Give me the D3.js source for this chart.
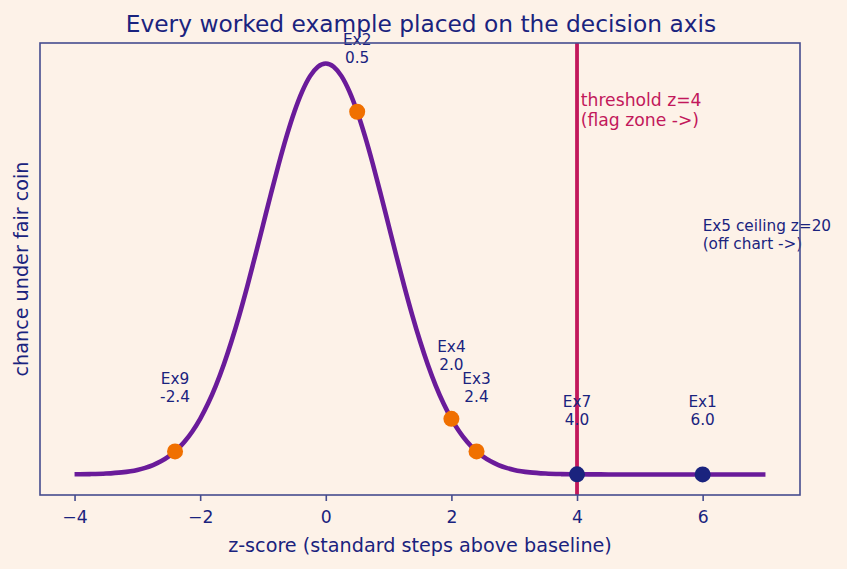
<!DOCTYPE html>
<html>
<head>
<meta charset="utf-8">
<script src="https://cdn.jsdelivr.net/npm/d3@7"></script>
<style>
  body { margin: 0; background: #fdf2e8; }
  text { font-family: "DejaVu Sans", sans-serif; }
</style>
</head>
<body>
<div id="chart"></div>
<script>
// curve (density under a fair coin)
const curveZ = [-4, -3.75, -3.5, -3.25, -3, -2.875, -2.75, -2.625, -2.5, -2.375, -2.25, -2.125, -2, -1.875, -1.75, -1.625,
                -1.5, -1.375, -1.25, -1.125, -1, -0.875, -0.75, -0.625, -0.5, -0.375, -0.25, -0.125,
                0, 0.125, 0.25, 0.375, 0.5, 0.625, 0.75, 0.875, 1, 1.125, 1.25, 1.375, 1.5, 1.625, 1.75, 1.875,
                2, 2.125, 2.25, 2.375, 2.5, 2.625, 2.75, 2.875, 3, 3.25, 3.5, 3.75, 4,
                4.25, 4.5, 5, 5.5, 6, 6.5, 7];
const curveP = [0.00013, 0.00035, 0.00087, 0.00203, 0.00443, 0.00640, 0.00909, 0.01273, 0.01753, 0.02378, 0.03174, 0.04172, 0.05399, 0.06879, 0.08628, 0.10654,
                0.12952, 0.15501, 0.18265, 0.21188, 0.24197, 0.27205, 0.30114, 0.32816, 0.35207, 0.37185, 0.38667, 0.39584,
                0.39894, 0.39584, 0.38667, 0.37185, 0.35207, 0.32816, 0.30114, 0.27205, 0.24197, 0.21188, 0.18265, 0.15501, 0.12952, 0.10654, 0.08628, 0.06879,
                0.05399, 0.04172, 0.03174, 0.02378, 0.01753, 0.01273, 0.00909, 0.00640, 0.00443, 0.00203, 0.00087, 0.00035, 0.00013,
                0.00005, 0.00002, 0, 0, 0, 0, 0];

// worked examples
const exNames = ["Ex9", "Ex2", "Ex4", "Ex3", "Ex7", "Ex1"];
const exZ = [-2.4, 0.5, 2.0, 2.4, 4.0, 6.0];
const exP = [0.0224, 0.3521, 0.0540, 0.0224, 0.0001, 0.0000];
const exLabels = ["-2.4", "0.5", "2.0", "2.4", "4.0", "6.0"];

const threshold = 4;
const xTicks = [-4, -2, 0, 2, 4, 6];
const xDomain = [-4.55, 7.55];
const yDomain = [-0.01995, 0.41884];

const W = 847, H = 569;
let margin = {top: 43, right: 47, bottom: 74, left: 40};
let width = W - margin.left - margin.right,
    height = H - margin.top - margin.bottom;

const navy = "#1a237e", frameCol = "#454c8e", purple = "#6a1b9a",
      orange = "#f07000", crimson = "#c2185b";

const svg = d3.select("#chart").append("svg")
    .attr("width", W).attr("height", H)
    .style("background", "#fdf2e8");

const g = svg.append("g")
    .attr("transform", "translate(" + margin.left + "," + margin.top + ")");

const x = d3.scaleLinear().domain(xDomain).range([0, width]);
const y = d3.scaleLinear().domain(yDomain).range([height, 0]);

// title
svg.append("text")
    .attr("x", margin.left + width / 2 + 1).attr("y", 32)
    .attr("text-anchor", "middle")
    .style("font-size", "23.3px").style("fill", navy)
    .text("Every worked example placed on the decision axis");

// x axis
const xAxis = g.append("g")
    .attr("transform", "translate(0," + height + ")")
    .call(d3.axisBottom(x).tickValues(xTicks).tickSize(6).tickPadding(10)
        .tickFormat(d => d < 0 ? "\u2212" + Math.abs(d) : d));
xAxis.select(".domain").remove();
xAxis.selectAll(".tick line").attr("stroke", frameCol).attr("stroke-width", 1.6);
xAxis.selectAll(".tick text").style("font-size", "17.2px").style("fill", navy)
    .style("font-family", "DejaVu Sans, sans-serif");

svg.append("text")
    .attr("x", margin.left + width / 2).attr("y", 552)
    .attr("text-anchor", "middle")
    .style("font-size", "19.2px").style("fill", navy)
    .text("z-score (standard steps above baseline)");

svg.append("text")
    .attr("transform", "translate(28," + (margin.top + height / 2) + ")rotate(-90)")
    .attr("text-anchor", "middle")
    .style("font-size", "19.2px").style("fill", navy)
    .text("chance under fair coin");

// threshold line
g.append("line")
    .attr("x1", x(threshold)).attr("x2", x(threshold))
    .attr("y1", 0).attr("y2", height)
    .attr("stroke", crimson).attr("stroke-width", 3.8);

const thrText = g.append("text")
    .attr("x", x(threshold + 0.06)).attr("y", y(0.374))
    .style("font-size", "17.2px").style("fill", crimson);
thrText.append("tspan").attr("x", x(threshold + 0.06)).attr("dy", "0.95em").text("threshold z=4");
thrText.append("tspan").attr("x", x(threshold + 0.06)).attr("dy", "1.2em").text("(flag zone ->)");

// curve
const line = d3.line()
    .x((d, i) => x(curveZ[i]))
    .y(d => y(d))
    .curve(d3.curveMonotoneX);

g.append("path")
    .datum(curveP)
    .attr("d", line)
    .attr("fill", "none")
    .attr("stroke", purple)
    .attr("stroke-width", 4.6)
    .attr("stroke-linecap", "butt");

// example dots
g.selectAll(".dot")
    .data(exZ)
    .enter()
    .append("circle")
      .attr("class", "dot")
      .attr("cx", d => x(d))
      .attr("cy", (d, i) => y(exP[i]))
      .attr("r", 8)
      .attr("fill", d => d >= threshold ? navy : orange);

// example labels
exZ.forEach(function(d, i) {
    const t = g.append("text")
        .attr("text-anchor", "middle")
        .style("font-size", "15.3px").style("fill", navy);
    t.append("tspan").attr("x", x(d)).attr("y", y(exP[i]) - 72.5).attr("dy", "0.35em").text(exNames[i]);
    t.append("tspan").attr("x", x(d)).attr("y", y(exP[i]) - 54.5).attr("dy", "0.35em").text(exLabels[i]);
});

// ceiling note
const ceil = g.append("text")
    .attr("y", y(0.25))
    .style("font-size", "15.3px").style("fill", navy);
ceil.append("tspan").attr("x", x(6)).attr("dy", "0.95em").text("Ex5 ceiling z=20");
ceil.append("tspan").attr("x", x(6)).attr("dy", "1.12em").text("(off chart ->)");

// frame
g.append("rect")
    .attr("width", width).attr("height", height)
    .attr("fill", "none")
    .attr("stroke", frameCol).attr("stroke-width", 1.6);
</script>
</body>
</html>
